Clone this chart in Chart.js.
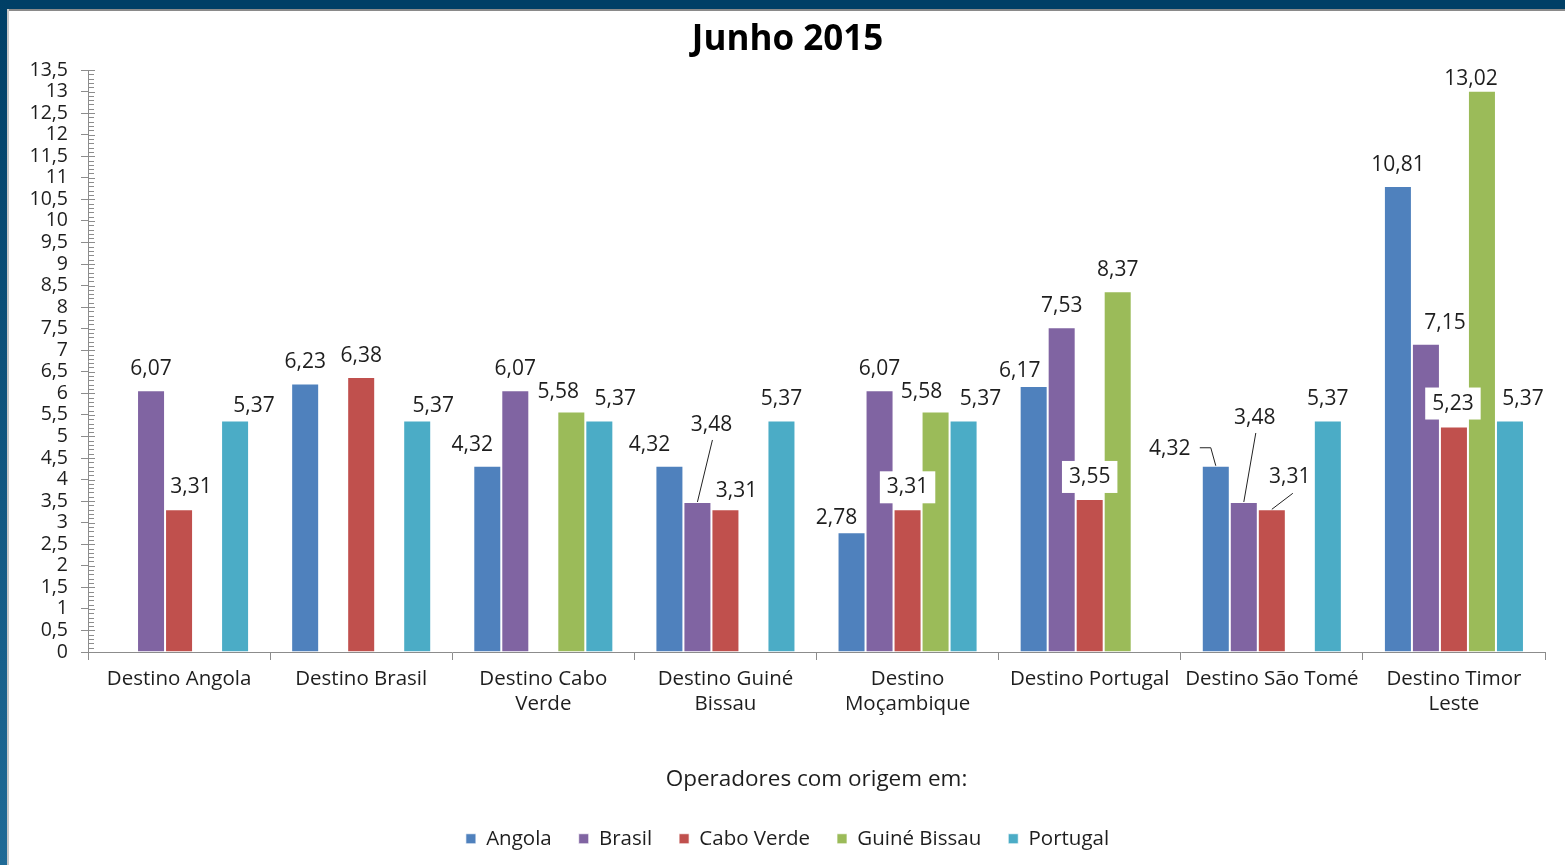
<!DOCTYPE html>
<html>
<head>
<meta charset="utf-8">
<script src="https://cdn.jsdelivr.net/npm/chart.js@4/dist/chart.umd.min.js"></script>
<style>
  html, body { margin: 0; padding: 0; background: #ffffff; }
  body { width: 1565px; height: 865px; position: relative; overflow: hidden; }
  #topbar { position: absolute; left: 0; top: 0; width: 1565px; height: 9px; background: #003f66; }
  #topline { position: absolute; left: 7px; top: 9px; width: 1558px; height: 2px; background: #8a8a8a; }
  #leftbar { position: absolute; left: 0; top: 0; width: 7px; height: 865px; background: linear-gradient(#003f66, #1f6a96); }
  #leftline { position: absolute; left: 7px; top: 9px; width: 2px; height: 856px; background: #c8c8c8; }
  #wrap { position: absolute; left: 0; top: 0; width: 1565px; height: 865px; }
</style>
</head>
<body>
<div id="wrap"><canvas id="c" width="1565" height="865"></canvas></div>
<div id="topbar"></div><div id="leftbar"></div><div id="topline"></div><div id="leftline"></div>
<script>
// ---------- data ----------
const categories = [
  ["Destino Angola"], ["Destino Brasil"], ["Destino Cabo", "Verde"], ["Destino Guiné", "Bissau"],
  ["Destino", "Moçambique"], ["Destino Portugal"], ["Destino São Tomé"], ["Destino Timor", "Leste"]
];
const seriesNames = ["Angola", "Brasil", "Cabo Verde", "Guiné Bissau", "Portugal"];
const angola      = [null, 6.23, 4.32, 4.32, 2.78, 6.17, 4.32, 10.81];
const brasil      = [6.07, null, 6.07, 3.48, 6.07, 7.53, 3.48, 7.15];
const caboVerde   = [3.31, 6.38, null, 3.31, 3.31, 3.55, 3.31, 5.23];
const guineBissau = [null, null, 5.58, null, 5.58, 8.37, null, 13.02];
const portugal    = [5.37, 5.37, 5.37, 5.37, 5.37, null, 5.37, 5.37];
const yTickMin = 0, yTickMax = 13.5, yTickStep = 0.5;

// ---------- label layout (offsets from bar top, px) ----------
const D = [0, -21];
const labelPos = [
  [D, D, [-15, -21], [-20, -21], [-15, -14], [-14, -15], [-46, -17], D],            // Angola
  [D, D, D, [14, -77], D, D, [11, -84], [19, -21]],                                  // Brasil
  [[12, -22], D, D, [11, -18], [0, -22], [0, -22], [18, -32], [-1, -23]],            // Cabo Verde
  [D, D, [-13, -19], D, [-14, -19], D, D, [-11, -12]],                              // Guiné Bissau
  [[19, -14], [16, -14], [16, -21], D, [17, -21], D, D, [13, -21]]                   // Portugal
];
const boxed = { "2-4": true, "2-5": true, "2-7": true };
const leaders = {
  "1-3": [[15, -62], [0, 0]],
  "0-6": [[-16, -18], [-5, -18], [0, 0]],
  "1-6": [[12, -69], [0, 0]],
  "2-6": [[21, -16], [0, 0]]
};

const colors = ["#4f81bd", "#8064a2", "#c0504d", "#9bbb59", "#4bacc6"];
const seriesData = [angola, brasil, caboVerde, guineBissau, portugal];
const FONT = "'Open Sans', 'Noto Sans', sans-serif";
const TXT = "#1e1e1e";
const AXIS = "#8c8c8c";

function fmt(v) { return v.toFixed(2).replace('.', ','); }

const labelPlugin = {
  id: 'valueLabels',
  afterDatasetsDraw(chart) {
    const ctx = chart.ctx;
    ctx.save();
    ctx.font = "21px " + FONT;
    ctx.textAlign = 'center';
    ctx.textBaseline = 'middle';
    chart.data.datasets.forEach((ds, i) => {
      const meta = chart.getDatasetMeta(i);
      meta.data.forEach((el, j) => {
        const v = ds.data[j];
        if (v === null || v === undefined) return;
        const off = labelPos[i][j];
        const lx = el.x + off[0], ly = el.y + off[1];
        const key = i + "-" + j;
        if (leaders[key]) {
          ctx.strokeStyle = "#222";
          ctx.lineWidth = 1;
          ctx.beginPath();
          leaders[key].forEach((p, k) => {
            const px = el.x + p[0], py = el.y + p[1];
            if (k === 0) ctx.moveTo(px, py); else ctx.lineTo(px, py);
          });
          ctx.stroke();
        }
        const t = fmt(v);
        if (boxed[key]) {
          const w = ctx.measureText(t).width + 14;
          ctx.fillStyle = "#ffffff";
          ctx.fillRect(lx - w / 2, ly - 16, w, 32);
        }
        ctx.fillStyle = TXT;
        ctx.fillText(t, lx, ly);
      });
    });
    ctx.restore();
  }
};

const minorTickPlugin = {
  id: 'minorTicks',
  afterDraw(chart) {
    const y = chart.scales.y;
    const ctx = chart.ctx;
    const x0 = chart.chartArea.left;
    ctx.save();
    ctx.strokeStyle = AXIS;
    ctx.lineWidth = 1;
    ctx.beginPath();
    for (let k = 0; k <= Math.round((yTickMax - yTickMin) * 10); k++) {
      const v = yTickMin + k / 10;
      const py = Math.round(y.getPixelForValue(v)) + 0.5;
      const len = (k % 5 === 0) ? 7 : 6;
      ctx.moveTo(x0, py);
      ctx.lineTo(x0 + len, py);
    }
    ctx.stroke();
    ctx.restore();
  }
};

new Chart(document.getElementById('c'), {
  type: 'bar',
  data: {
    labels: categories,
    datasets: seriesNames.map((n, i) => ({
      label: n,
      data: seriesData[i],
      backgroundColor: colors[i],
      borderColor: 'rgba(255,255,255,0.7)',
      borderWidth: 1,
      barPercentage: 1,
      categoryPercentage: 0.769
    }))
  },
  options: {
    responsive: false,
    animation: false,
    layout: { padding: { top: 11, left: 30, right: 20, bottom: 6 } },
    plugins: {
      title: {
        display: true,
        text: 'Junho 2015',
        color: '#000',
        font: { family: FONT, size: 35, weight: 'bold' },
        padding: { top: 8, bottom: 9 }
      },
      legend: {
        position: 'bottom',
        labels: {
          color: TXT,
          font: { family: FONT, size: 20.5 },
          boxWidth: 10, boxHeight: 10,
          padding: 27
        }
      },
      tooltip: { enabled: false }
    },
    scales: {
      x: {
        grid: { display: true, offset: true, drawOnChartArea: false, tickLength: 8, color: AXIS },
        border: { color: AXIS, width: 1 },
        ticks: { color: TXT, font: { family: FONT, size: 20.5, lineHeight: 1.22 }, padding: 7, maxRotation: 0, autoSkip: false },
        title: {
          display: true, text: 'Operadores com origem em:', color: TXT,
          font: { family: FONT, size: 22.5 }, padding: { top: 0, bottom: 8 }
        },
        afterFit(scale) { scale.height = 149.5; }
      },
      y: {
        min: yTickMin, max: yTickMax,
        grid: { drawOnChartArea: false, tickLength: 7, color: AXIS },
        border: { color: AXIS, width: 1 },
        ticks: {
          stepSize: yTickStep, color: TXT, padding: 13, autoSkip: false,
          font: { family: FONT, size: 19.5, lineHeight: 1 },
          callback: (v) => String(v).replace('.', ',')
        },
        afterFit(scale) { scale.width = 58; }
      }
    }
  },
  plugins: [labelPlugin, minorTickPlugin]
});
</script>
</body>
</html>
